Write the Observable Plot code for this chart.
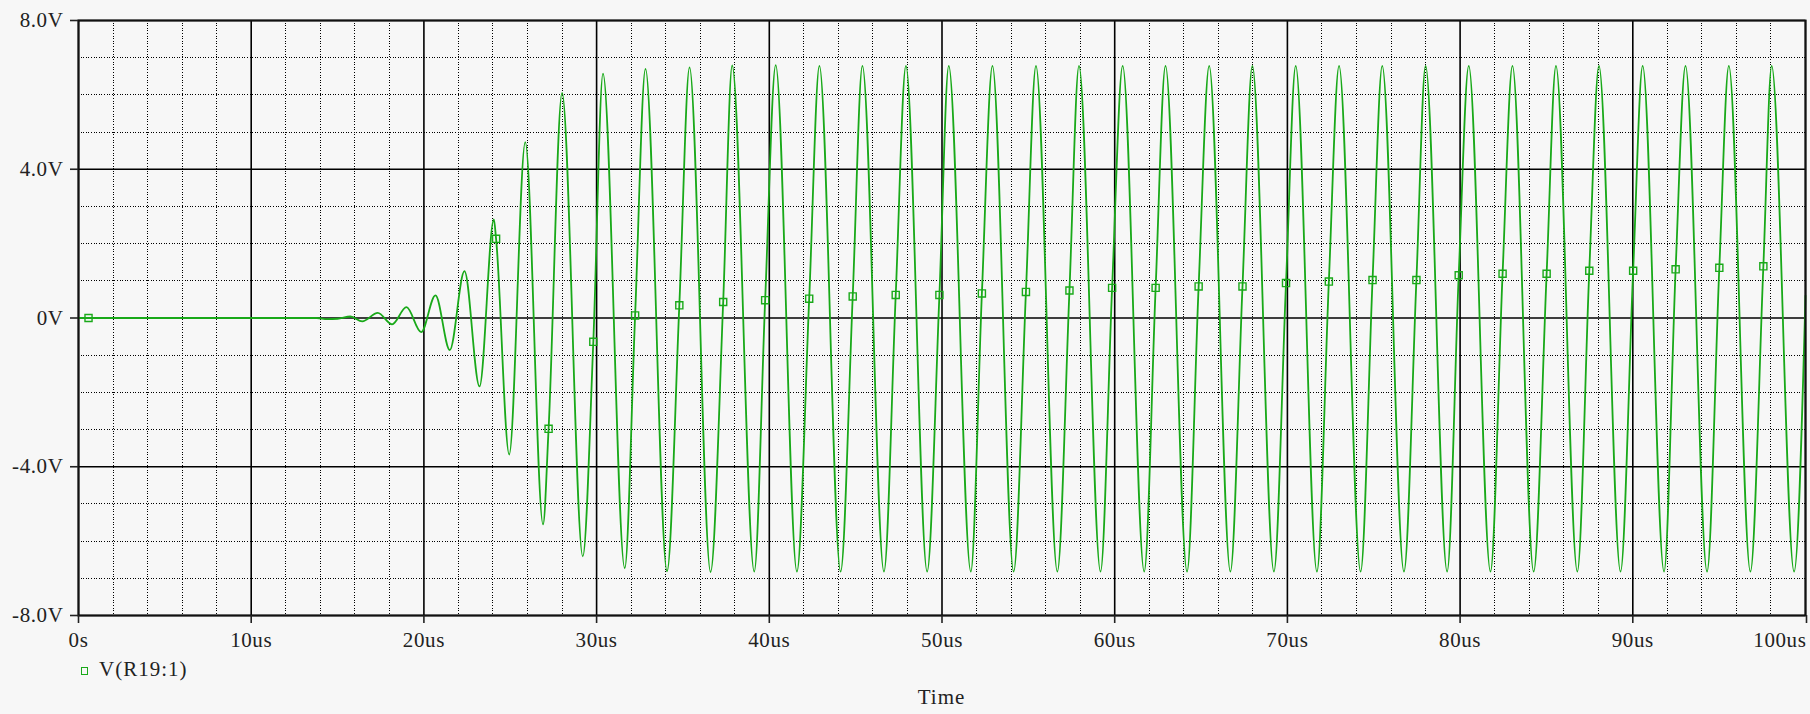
<!DOCTYPE html>
<html>
<head>
<meta charset="utf-8">
<script src="https://cdn.jsdelivr.net/npm/d3@7"></script>
<script src="https://cdn.jsdelivr.net/npm/@observablehq/plot@0.6"></script>
<style>
html,body{margin:0;padding:0;background:#f7f7f7;overflow:hidden;}
#wrap{position:relative;width:1810px;height:714px;font-family:"Liberation Serif",serif;color:#222;}
#legend{position:absolute;left:81px;top:657px;font-size:21px;line-height:24px;letter-spacing:1px;display:flex;align-items:center;}
#legend .sw{width:5px;height:6px;border:1.5px solid #19a919;margin-right:11px;margin-top:3px;}
#xlabel{position:absolute;left:78px;width:1727px;top:685px;text-align:center;font-size:21px;line-height:24px;letter-spacing:1px;}
.minor line{shape-rendering:crispEdges;}
</style>
</head>
<body>
<div id="wrap">
  <div id="chart"></div>
  <div id="legend"><span class="sw"></span><span id="legtext"></span></div>
  <div id="xlabel"></div>
</div>
<script>
// ---- data ----
const seriesName = "V(R19:1)";
const xTitle = "Time";

// extrema / key points of the trace (time in us, volts)
const waveT = [0, 13.8, 14.4, 15.0, 15.75, 16.43, 17.33, 18.16, 18.99, 19.84, 20.67, 21.5, 22.35, 23.22,
  24.05, 24.94, 25.87, 26.9, 28.0, 29.2, 30.37, 31.63, 32.83, 34.08, 35.38, 36.6, 37.85, 39.13,
  40.37, 41.60, 42.90, 44.13, 45.39, 46.64, 47.91, 49.14, 50.39, 51.67, 52.92, 54.15, 55.44, 56.68,
  57.93, 59.18, 60.46, 61.71, 62.94, 64.19, 65.47, 66.70, 67.97, 69.22, 70.48, 71.71, 72.99, 74.24,
  75.49, 76.75, 78.00, 79.25, 80.50, 81.76, 83.03, 84.26, 85.55, 86.79, 88.04, 89.29, 90.57, 91.81,
  93.05, 94.30, 95.56, 96.81, 98.04, 99.34, 100];
const waveV = [0, 0, -0.03, -0.02, 0.04, -0.09, 0.14, -0.17, 0.29, -0.38, 0.61, -0.86, 1.26, -1.84,
  2.65, -3.67, 4.73, -5.55, 6.05, -6.41, 6.57, -6.73, 6.70, -6.81, 6.74, -6.83, 6.79, -6.82,
  6.80, -6.82, 6.78, -6.82, 6.78, -6.82, 6.78, -6.82, 6.78, -6.82, 6.78, -6.82, 6.78, -6.82,
  6.78, -6.82, 6.78, -6.82, 6.78, -6.82, 6.78, -6.82, 6.78, -6.82, 6.78, -6.82, 6.78, -6.82,
  6.78, -6.82, 6.78, -6.82, 6.78, -6.82, 6.78, -6.82, 6.78, -6.82, 6.78, -6.82, 6.78, -6.82,
  6.78, -6.82, 6.78, -6.82, 6.78, -6.82, 0.6];

// square markers on the trace
const markerT = [0.58, 24.18, 27.22, 29.81, 32.23, 34.79, 37.33, 39.76, 42.31, 44.83, 47.32, 49.85,
  52.31, 54.86, 57.38, 59.85, 62.37, 64.86, 67.40, 69.92, 72.40, 74.93, 77.47, 79.92, 82.46,
  85.01, 87.48, 90.02, 92.48, 95.01, 97.56];
const markerV = [0, 2.13, -2.98, -0.64, 0.07, 0.34, 0.43, 0.48, 0.52, 0.58, 0.62, 0.62,
  0.66, 0.70, 0.74, 0.81, 0.81, 0.85, 0.85, 0.94, 0.98, 1.02, 1.02, 1.15, 1.19,
  1.19, 1.27, 1.27, 1.31, 1.35, 1.39];

// axes
const xTicks = [0, 10, 20, 30, 40, 50, 60, 70, 80, 90, 100];
const xLabels = ["0s", "10us", "20us", "30us", "40us", "50us", "60us", "70us", "80us", "90us", "100us"];
const yTicks = [-8, -4, 0, 4, 8];
const yLabels = ["-8.0V", "-4.0V", "0V", "4.0V", "8.0V"];
const xMinor = [2, 4, 6, 8, 12, 14, 16, 18, 22, 24, 26, 28, 32, 34, 36, 38, 42, 44, 46, 48, 52, 54, 56, 58,
  62, 64, 66, 68, 72, 74, 76, 78, 82, 84, 86, 88, 92, 94, 96, 98];
const yMinor = [-7, -6, -5, -3, -2, -1, 1, 2, 3, 5, 6, 7];

// ---- build ----
const markers = markerT.map((t, i) => ({t, v: markerV[i]}));
const trace = waveT.map((t, i) => ({t, v: waveV[i]}))
  .concat(markers)
  .sort((a, b) => a.t - b.t);

const GREEN = "#19a919";
const fmtX = d => xLabels[xTicks.indexOf(d)];
const fmtY = d => yLabels[yTicks.indexOf(d)];

const chart = Plot.plot({
  width: 1810,
  height: 655,
  marginTop: 20,
  marginBottom: 40,
  marginLeft: 78,
  marginRight: 5,
  style: {background: "transparent", fontFamily: "'Liberation Serif', serif", fontSize: "21px", color: "#222", letterSpacing: "0.6px"},
  x: {domain: [0, 100]},
  y: {domain: [-8, 8]},
  marks: [
    Plot.gridX(xMinor, {stroke: "#000", strokeOpacity: 1, strokeWidth: 1, strokeDasharray: "1,1.6", className: "minor"}),
    Plot.gridY(yMinor, {stroke: "#000", strokeOpacity: 1, strokeWidth: 1, strokeDasharray: "1,1.6", className: "minor"}),
    Plot.gridX(xTicks, {stroke: "#000", strokeOpacity: 1, strokeWidth: 1.6}),
    Plot.gridY(yTicks, {stroke: "#000", strokeOpacity: 1, strokeWidth: 1.6}),
    Plot.line(trace, {x: "t", y: "v", curve: "monotone-x", stroke: GREEN, strokeWidth: 1.8}),
    Plot.dot(markers, {x: "t", y: "v", symbol: "square", r: 4, stroke: GREEN, strokeWidth: 1.4, fill: "none"}),
    Plot.frame({stroke: "#111", strokeWidth: 2}),
    Plot.axisY(yTicks, {tickSize: 8, tickPadding: 7, tickFormat: fmtY, label: null, strokeWidth: 1.6}),
    Plot.axisX(xTicks.slice(0, -1), {tickSize: 8, tickPadding: 9, tickFormat: fmtX, label: null, strokeWidth: 1.6}),
    Plot.axisX(xTicks.slice(-1), {tickSize: 8, tickPadding: 9, tickFormat: fmtX, label: null, strokeWidth: 1.6, textAnchor: "end", dx: 1})
  ]
});
document.getElementById("chart").appendChild(chart);
document.getElementById("legtext").textContent = seriesName;
document.getElementById("xlabel").textContent = xTitle;
</script>
</body>
</html>
